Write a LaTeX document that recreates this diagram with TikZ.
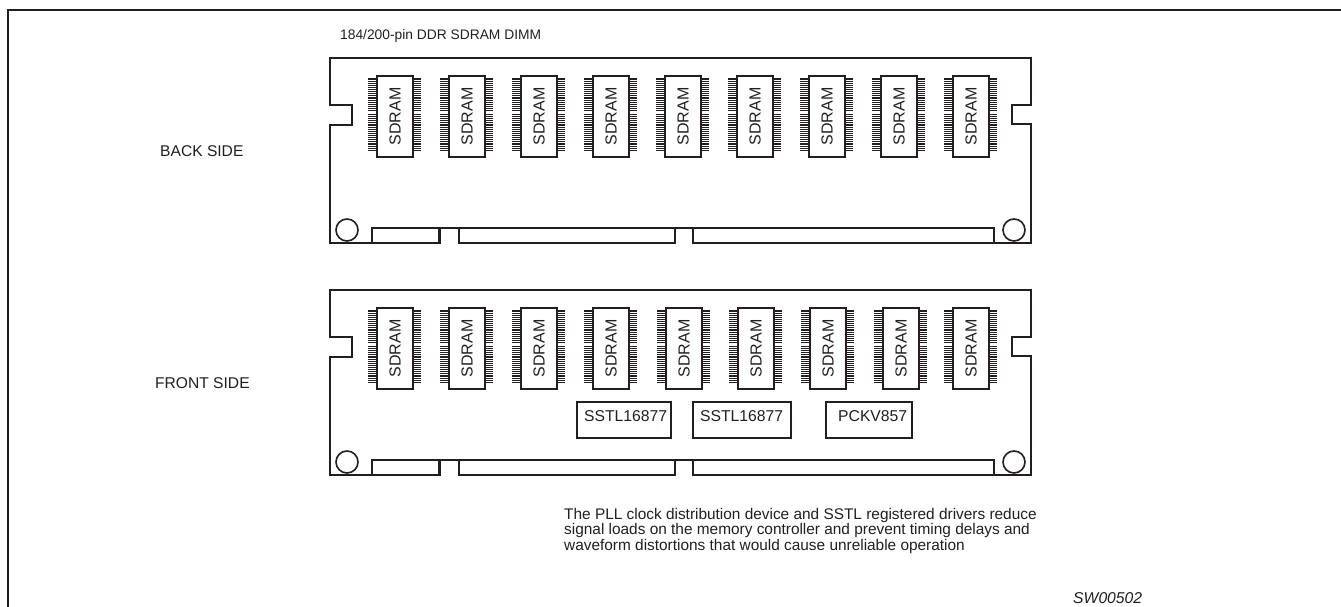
\documentclass[tikz,border=0pt]{standalone}
\usepackage{fontspec}
\setmainfont{Liberation Sans}
\definecolor{ink}{HTML}{231F20}
\tikzset{
  x=1pt,y=-1pt,
  heavy/.style={draw=ink,line width=2pt,line join=miter},
  chipbox/.style={draw=ink,line width=2pt,fill=white,minimum width=36pt,minimum height=81pt,inner sep=0pt},
  regbox/.style={draw=ink,line width=2pt,fill=white,minimum height=36pt,inner sep=0pt,text=ink},
  regtext/.style={text=ink,font=\fontsize{15.7}{18}\selectfont,inner sep=0pt,anchor=west},
  label/.style={text=ink,font=\fontsize{15.6}{18}\selectfont,inner sep=0pt,anchor=west},
  pin/.style={draw=ink,line width=0.9pt},
}
\newcommand{\boardoutline}[1]{%
  \draw[heavy] (440,{#1+243}) -- (330,{#1+243}) -- (330,{#1+125}) -- (352,{#1+125}) -- (352,{#1+105}) -- (330,{#1+105}) -- (330,{#1+58}) -- (1031,{#1+58}) -- (1031,{#1+105}) -- (1012,{#1+105}) -- (1012,{#1+124}) -- (1031,{#1+124}) -- (1031,{#1+243}) -- (693,{#1+243});
  \draw[heavy] (459,{#1+243}) -- (675,{#1+243});
  \draw[heavy] (372,{#1+243}) -- (372,{#1+228}) -- (994,{#1+228}) -- (994,{#1+243});
  \draw[heavy,line width=3pt] (439,{#1+244}) -- (439,{#1+228});
  \draw[heavy,line width=2.4pt] (459,{#1+244}) -- (459,{#1+228});
  \draw[heavy,line width=2.4pt] (675,{#1+244}) -- (675,{#1+228});
  \draw[heavy,line width=2.4pt] (693,{#1+244}) -- (693,{#1+228});
  \draw[heavy,line width=1.6pt] (347,{#1+230}) circle[radius=11];
  \draw[heavy,line width=1.6pt] (1014,{#1+230}) circle[radius=11];
}
\newcommand{\chip}[3]{% name, left x, board offset
  \foreach \py in {0,1.9,...,34,36.5,38.4,...,73} {
    \draw[pin] (#2-8,{#3+78+\py}) -- (#2+45,{#3+78+\py});
  }
  \node[chipbox,anchor=north west] (#1) at (#2,{#3+75}) {\rotatebox{90}{\textcolor{ink}{\fontsize{16}{18}\selectfont SDRAM}}};
}
\begin{document}
\begin{tikzpicture}
\useasboundingbox (0,0) rectangle (1341,607);
\fill[white] (0,0) rectangle (1341,607);
\draw[ink,line width=2.6pt] (8,607) -- (8,10) -- (1341,10);

\node[label,font=\fontsize{13.8}{15}\selectfont] (title) at (340,36) {184/200-pin DDR SDRAM DIMM};
\node[label] (back) at (160,151) {BACK SIDE};
\node[label] (front) at (155,383) {FRONT SIDE};

\boardoutline{0}
\foreach \n/\cx in {1/376,2/448,3/520,4/592,5/664,6/736,7/808,8/880,9/952} {\chip{b\n}{\cx}{0}}

\boardoutline{232}
\foreach \n/\cx in {1/376,2/448,3/520,4/592,5/665,6/737,7/809,8/882,9/952} {\chip{f\n}{\cx}{232}}

\node[regbox,minimum width=94pt,anchor=north west] (sstla) at (576,401) {};
\node[regbox,minimum width=98pt,anchor=north west] (sstlb) at (692,401) {};
\node[regbox,minimum width=86pt,anchor=north west] (pck) at (825,401) {};
\node[regtext] (sstlatext) at (584,416) {SSTL16877};
\node[regtext] (sstlbtext) at (700,416) {SSTL16877};
\node[regtext] (pcktext) at (838,416) {PCKV857};

\node[label,anchor=north west,align=left,font=\fontsize{15.4}{15.5}\selectfont] (note) at (564,508) {The PLL clock distribution device and SSTL registered drivers reduce\\signal loads on the memory controller and prevent timing delays and\\waveform distortions that would cause unreliable operation};
\node[label,font=\itshape\fontsize{15.7}{18}\selectfont] (code) at (1073,598) {SW00502};
\end{tikzpicture}
\end{document}
